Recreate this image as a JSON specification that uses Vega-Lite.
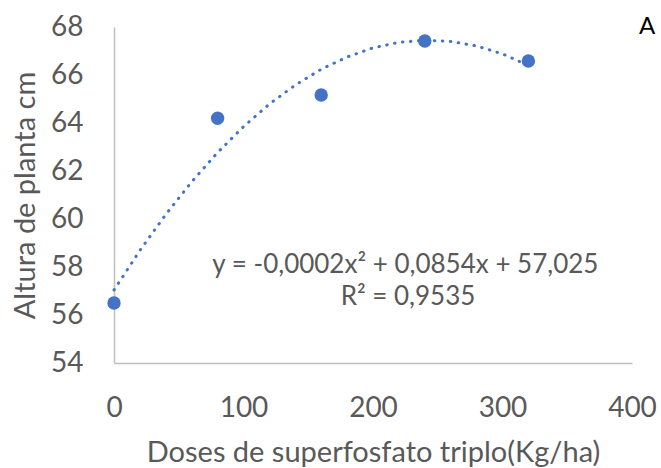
{
  "$schema": "https://vega.github.io/schema/vega-lite/v6.json",
  "width": 518,
  "height": 336,
  "autosize": {"type": "none"},
  "padding": {"left": 114, "top": 27, "right": 29, "bottom": 105},
  "background": "white",
  "config": {
    "view": {"stroke": null},
    "font": "Lato",
    "axis": {"grid": false, "ticks": false, "labelFlush": false, "domainColor": "#BFBFBF", "domainWidth": 1.5, "labelColor": "#595959", "titleColor": "#595959", "labelFont": "Lato", "titleFont": "Lato", "titleFontWeight": "normal"}
  },
  "datasets": {
    "pts": [
      {"dose": 0, "altura": 56.5},
      {"dose": 80, "altura": 64.2},
      {"dose": 160, "altura": 65.17},
      {"dose": 240, "altura": 67.42},
      {"dose": 320, "altura": 66.58}
    ],
    "trend": [
      {"dose": 0, "altura": 57.04},
      {"dose": 20, "altura": 58.69},
      {"dose": 40, "altura": 60.19},
      {"dose": 60, "altura": 61.55},
      {"dose": 80, "altura": 62.77},
      {"dose": 100, "altura": 63.85},
      {"dose": 120, "altura": 64.79},
      {"dose": 140, "altura": 65.58},
      {"dose": 160, "altura": 66.24},
      {"dose": 180, "altura": 66.75},
      {"dose": 200, "altura": 67.13},
      {"dose": 220, "altura": 67.36},
      {"dose": 240, "altura": 67.45},
      {"dose": 260, "altura": 67.40},
      {"dose": 280, "altura": 67.21},
      {"dose": 300, "altura": 66.88},
      {"dose": 320, "altura": 66.40}
    ],
    "labels": [
      {"dose": 225, "altura": 58.08, "txt": "y = -0,0002x² + 0,0854x + 57,025"},
      {"dose": 227, "altura": 56.75, "txt": "R² = 0,9535"}
    ],
    "panel": [
      {"dose": 411.6, "altura": 68, "txt": "A"}
    ]
  },
  "layer": [
    {
      "data": {"name": "trend"},
      "mark": {"type": "line", "color": "#4472C4", "strokeWidth": 3, "strokeDash": [0.5, 7.5], "strokeCap": "round"},
      "encoding": {
        "x": {"field": "dose", "type": "quantitative", "scale": {"domain": [0, 400], "nice": false},
          "axis": {"values": [0, 100, 200, 300, 400], "labelFontSize": 28, "labelPadding": 31, "title": "Doses de superfosfato triplo(Kg/ha)", "titleFontSize": 29, "titleBaseline": "middle", "titleY": 89}},
        "y": {"field": "altura", "type": "quantitative", "scale": {"domain": [54, 68], "nice": false, "zero": false},
          "axis": {"values": [54, 56, 58, 60, 62, 64, 66, 68], "labelFontSize": 28, "labelPadding": 31, "title": "Altura de planta cm", "titleFontSize": 29, "titleBaseline": "middle", "titleX": -89, "titleY": 168, "titleAngle": -90}}
      }
    },
    {
      "data": {"name": "pts"},
      "mark": {"type": "circle", "color": "#4472C4", "opacity": 1, "size": 180},
      "encoding": {
        "x": {"field": "dose", "type": "quantitative"},
        "y": {"field": "altura", "type": "quantitative"}
      }
    },
    {
      "data": {"name": "labels"},
      "mark": {"type": "text", "fontSize": 26, "color": "#595959", "align": "center", "baseline": "middle"},
      "encoding": {
        "x": {"field": "dose", "type": "quantitative"},
        "y": {"field": "altura", "type": "quantitative"},
        "text": {"field": "txt"}
      }
    },
    {
      "data": {"name": "panel"},
      "mark": {"type": "text", "fontSize": 24, "color": "#000000", "align": "center", "baseline": "middle"},
      "encoding": {
        "x": {"field": "dose", "type": "quantitative"},
        "y": {"field": "altura", "type": "quantitative"},
        "text": {"field": "txt"}
      }
    }
  ]
}
